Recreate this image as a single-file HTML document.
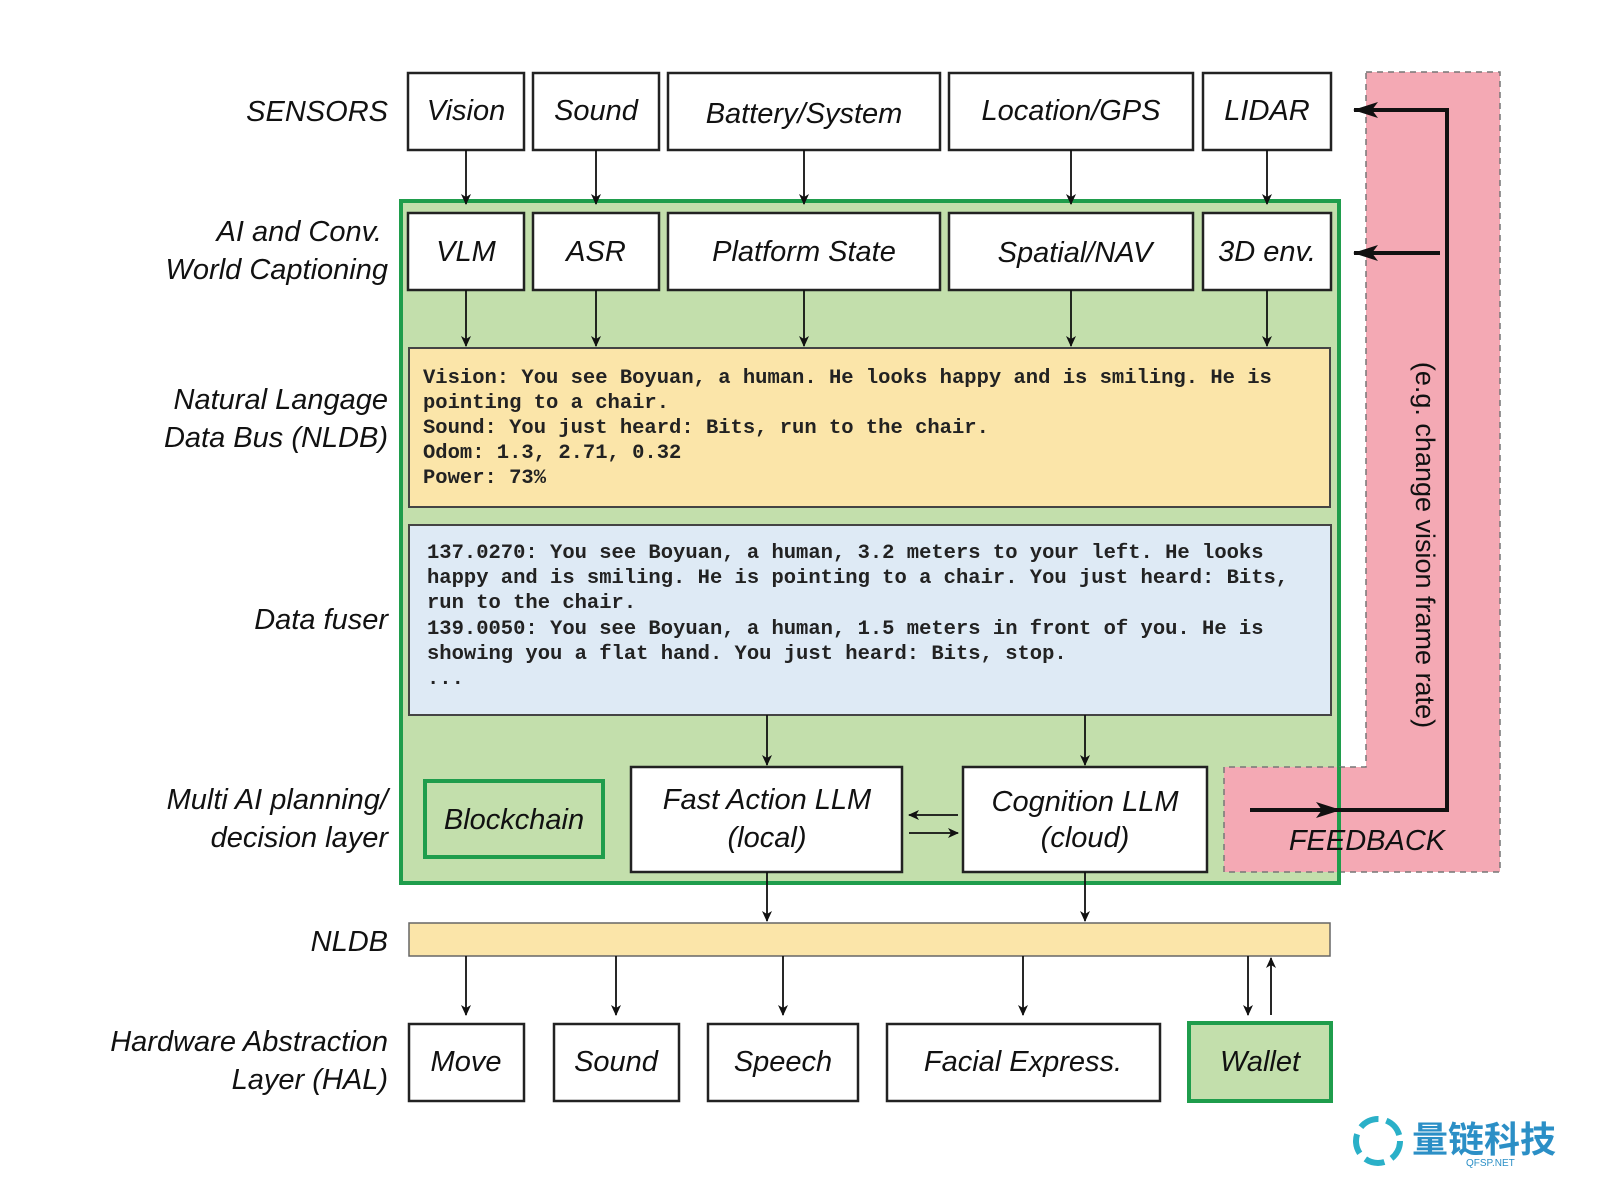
<!DOCTYPE html>
<html><head><meta charset="utf-8"><style>
body{margin:0;background:#fff;}
svg{display:block;}
.l{font-family:"Liberation Sans",sans-serif;font-style:italic;font-size:29px;fill:#111;}
.m{font-family:"Liberation Mono",monospace;font-size:20.5px;font-weight:bold;fill:#222;}
</style></head><body>
<svg width="1600" height="1196" viewBox="0 0 1600 1196" xmlns="http://www.w3.org/2000/svg">
<defs><marker id="a" markerWidth="12" markerHeight="12" refX="10" refY="6" orient="auto" markerUnits="userSpaceOnUse"><path d="M0,1 L11,6 L0,11 L3,6 z" fill="#111"/></marker>
<marker id="b" markerWidth="26" markerHeight="20" refX="24" refY="10" orient="auto" markerUnits="userSpaceOnUse"><path d="M0,2 L25,10 L0,18 L6,10 z" fill="#111"/></marker></defs>
<!-- green -->
<rect x="401" y="201" width="938" height="682" fill="#c3dfac" stroke="#1f9d4c" stroke-width="4"/>
<!-- feedback -->
<path d="M1366,72 H1500 V872 H1224 V767 H1366 Z" fill="#f4a9b4" stroke="#777" stroke-width="1.5" stroke-dasharray="6,5"/>
<line x1="1339" y1="767" x2="1339" y2="884" stroke="#1f9d4c" stroke-width="4"/>
<g class="l" text-anchor="end">
<text x="388" y="121">SENSORS</text>
<text x="382" y="241">AI and Conv.</text>
<text x="388" y="279">World Captioning</text>
<text x="388" y="409">Natural Langage</text>
<text x="388" y="447">Data Bus (NLDB)</text>
<text x="388" y="629">Data fuser</text>
<text x="388" y="809">Multi AI planning/</text>
<text x="388" y="847">decision layer</text>
<text x="388" y="951">NLDB</text>
<text x="388" y="1051">Hardware Abstraction</text>
<text x="388" y="1089">Layer (HAL)</text>
</g>
<g fill="#fff" stroke="#222" stroke-width="2.5">
<rect x="408" y="73" width="116" height="77"/><rect x="533" y="73" width="126" height="77"/><rect x="668" y="73" width="272" height="77"/><rect x="949" y="73" width="244" height="77"/><rect x="1203" y="73" width="128" height="77"/>
<rect x="408" y="213" width="116" height="77"/><rect x="533" y="213" width="126" height="77"/><rect x="668" y="213" width="272" height="77"/><rect x="949" y="213" width="244" height="77"/><rect x="1203" y="213" width="128" height="77"/>
<rect x="631" y="767" width="271" height="105"/><rect x="963" y="767" width="244" height="105"/>
<rect x="409" y="1024" width="115" height="77"/><rect x="554" y="1024" width="125" height="77"/><rect x="708" y="1024" width="150" height="77"/><rect x="887" y="1024" width="273" height="77"/>
</g>
<rect x="409" y="348" width="921" height="159" fill="#fbe5a9" stroke="#444" stroke-width="2"/>
<rect x="409" y="525" width="922" height="190" fill="#deeaf5" stroke="#444" stroke-width="2"/>
<rect x="409" y="923" width="921" height="33" fill="#fbe5a9" stroke="#666" stroke-width="1.5"/>
<rect x="425" y="781" width="178" height="76" fill="#c3dfac" stroke="#1f9d4c" stroke-width="4"/>
<rect x="1189" y="1023" width="142" height="78" fill="#c3dfac" stroke="#1f9d4c" stroke-width="4"/>
<g class="l" text-anchor="middle">
<text x="466" y="120">Vision</text><text x="596" y="120">Sound</text><text x="804" y="123">Battery/System</text><text x="1071" y="120">Location/GPS</text><text x="1267" y="120">LIDAR</text>
<text x="466" y="261">VLM</text><text x="596" y="261">ASR</text><text x="804" y="261">Platform State</text><text x="1075" y="262">Spatial/NAV</text><text x="1267" y="261">3D env.</text>
<text x="514" y="829">Blockchain</text>
<text x="767" y="809">Fast Action LLM</text><text x="767" y="847">(local)</text>
<text x="1085" y="811">Cognition LLM</text><text x="1085" y="847">(cloud)</text>
<text x="466" y="1071">Move</text><text x="616" y="1071">Sound</text><text x="783" y="1071">Speech</text><text x="1023" y="1071">Facial Express.</text><text x="1260" y="1071">Wallet</text>
<text x="1367" y="850">FEEDBACK</text>
</g>
<text class="l" transform="translate(1416,545) rotate(90)" text-anchor="middle" style="font-style:normal;font-size:27px">(e.g. change vision frame rate)</text>
<g class="m">
<text x="423" y="383">Vision: You see Boyuan, a human. He looks happy and is smiling. He is</text>
<text x="423" y="408">pointing to a chair.</text>
<text x="423" y="433">Sound: You just heard: Bits, run to the chair.</text>
<text x="423" y="458">Odom: 1.3, 2.71, 0.32</text>
<text x="423" y="483">Power: 73%</text>
<text x="427" y="558">137.0270: You see Boyuan, a human, 3.2 meters to your left. He looks</text>
<text x="427" y="583">happy and is smiling. He is pointing to a chair. You just heard: Bits,</text>
<text x="427" y="608">run to the chair.</text>
<text x="427" y="634">139.0050: You see Boyuan, a human, 1.5 meters in front of you. He is</text>
<text x="427" y="659">showing you a flat hand. You just heard: Bits, stop.</text>
<text x="427" y="684">...</text>
</g>
<g stroke="#111" stroke-width="1.8" marker-end="url(#a)">
<line x1="466" y1="150" x2="466" y2="204"/><line x1="596" y1="150" x2="596" y2="204"/><line x1="804" y1="150" x2="804" y2="204"/><line x1="1071" y1="150" x2="1071" y2="204"/><line x1="1267" y1="150" x2="1267" y2="204"/>
<line x1="466" y1="290" x2="466" y2="346"/><line x1="596" y1="290" x2="596" y2="346"/><line x1="804" y1="290" x2="804" y2="346"/><line x1="1071" y1="290" x2="1071" y2="346"/><line x1="1267" y1="290" x2="1267" y2="346"/>
<line x1="767" y1="715" x2="767" y2="765"/><line x1="1085" y1="715" x2="1085" y2="765"/>
<line x1="767" y1="872" x2="767" y2="921"/><line x1="1085" y1="872" x2="1085" y2="921"/>
<line x1="466" y1="956" x2="466" y2="1015"/><line x1="616" y1="956" x2="616" y2="1015"/><line x1="783" y1="956" x2="783" y2="1015"/><line x1="1023" y1="956" x2="1023" y2="1015"/><line x1="1248" y1="956" x2="1248" y2="1015"/>
<line x1="1271" y1="1015" x2="1271" y2="958"/>
<line x1="958" y1="815" x2="909" y2="815"/><line x1="909" y1="833" x2="958" y2="833"/>
</g>
<g stroke="#111" stroke-width="4" fill="none">
<path d="M1250,810 H1447 V110 H1354" marker-end="url(#b)"/>
<line x1="1250" y1="810" x2="1340" y2="810" marker-end="url(#b)"/>
<line x1="1440" y1="253" x2="1354" y2="253" marker-end="url(#b)"/>
</g>
<g>
<circle cx="1378" cy="1141" r="22" fill="none" stroke="#2ab0c8" stroke-width="6" stroke-dasharray="20,8"/>
<text x="1412" y="1152" font-family="'Noto Sans CJK SC',sans-serif" font-size="36" font-weight="bold" fill="#2b8fc6">量链科技</text>
<text x="1466" y="1166" font-family="'Liberation Sans',sans-serif" font-size="10" fill="#2b8fc6">QFSP.NET</text>
</g>
</svg>
</body></html>
